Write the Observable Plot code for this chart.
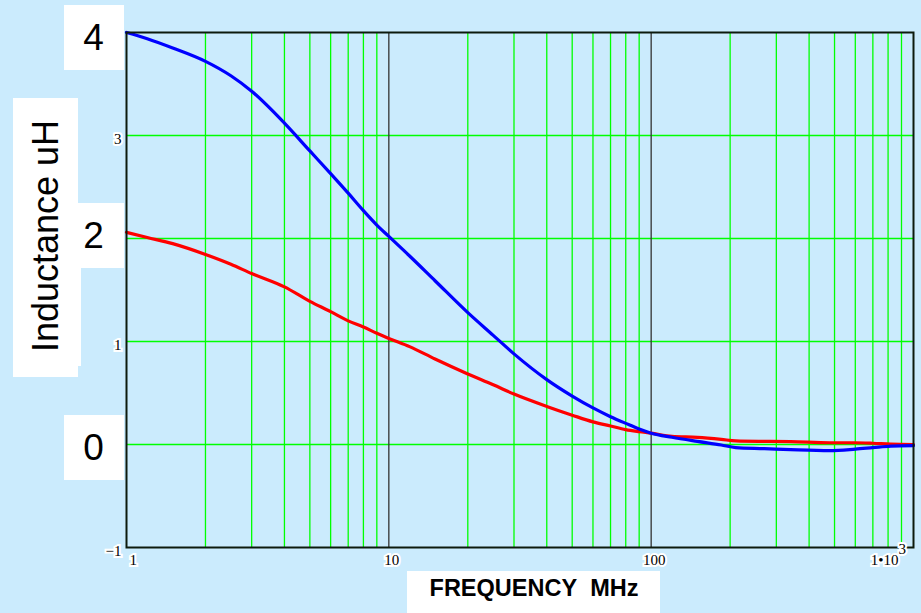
<!DOCTYPE html>
<html>
<head>
<meta charset="utf-8">
<script src="https://cdn.jsdelivr.net/npm/d3@7"></script>
<script src="https://cdn.jsdelivr.net/npm/@observablehq/plot@0.6"></script>
<style>
  html, body { margin: 0; padding: 0; background: #cbebfd; }
  #wrap { position: relative; width: 921px; height: 613px; background: #cbebfd; overflow: hidden; }
  .box { position: absolute; background: #ffffff; }
  #chart { position: absolute; left: 0; top: 0; }
</style>
</head>
<body>
<div id="wrap">
  <div class="box" style="left:64px;top:5px;width:60px;height:65px"></div>
  <div class="box" style="left:13px;top:98px;width:65px;height:279px"></div>
  <div class="box" style="left:13px;top:268px;width:68px;height:98px"></div>
  <div class="box" style="left:64px;top:203px;width:60px;height:65px"></div>
  <div class="box" style="left:64px;top:415px;width:60px;height:65px"></div>
  <div class="box" style="left:407px;top:571px;width:253px;height:42px"></div>
  <div id="chart"></div>
</div>
<script>
// ---- data ----
const freq  = [1, 1.2, 1.5, 2, 2.5, 3, 4, 5, 6, 7, 8, 9, 10, 12, 15, 20, 25, 30, 40, 50, 60, 70, 80, 90, 100, 120, 150, 185, 210, 270, 340, 480, 600, 700, 820, 1000];
const blueL = [4.00, 3.94, 3.85, 3.72, 3.58, 3.43, 3.12, 2.85, 2.63, 2.44, 2.27, 2.13, 2.02, 1.83, 1.59, 1.28, 1.06, 0.88, 0.63, 0.47, 0.355, 0.27, 0.205, 0.15, 0.11, 0.07, 0.03, -0.005, -0.03, -0.04, -0.05, -0.06, -0.045, -0.03, -0.015, -0.01];
const redL  = [2.06, 2.01, 1.95, 1.845, 1.75, 1.66, 1.53, 1.39, 1.29, 1.20, 1.14, 1.08, 1.03, 0.95, 0.83, 0.685, 0.58, 0.49, 0.37, 0.285, 0.22, 0.18, 0.145, 0.125, 0.11, 0.08, 0.07, 0.05, 0.035, 0.03, 0.028, 0.017, 0.017, 0.012, 0.003, 0.0];

const yBigTicks    = [4, 2, 0];
const ySmallTicks  = [3, 1, -1];
const ySmallLabels = ["3", "1", "\u22121"];
const xTicks       = [1, 10, 100, 1000];
const xTickLabels  = ["1", "10", "100", "1\u202210"];
const xTickExp     = ["", "", "", "3"];
const minorX = [2, 3, 4, 5, 6, 7, 8, 9, 20, 30, 40, 50, 60, 70, 80, 90, 200, 300, 400, 500, 600, 700, 800, 900];
const majorX = [10, 100];
const gridY  = [0, 1, 2, 3];
const yTitle = "Inductance uH";
const xTitle = "FREQUENCY\u00a0 MHz";

const blue = freq.map((f, i) => ({f, L: blueL[i]}));
const red  = freq.map((f, i) => ({f, L: redL[i]}));

const big = {fontFamily: "Liberation Sans, Arial, sans-serif", fontSize: 37, fill: "#000"};
const serif = {fontFamily: "Liberation Serif, Times New Roman, serif", fontSize: 15, fill: "#000", stroke: "#fff", strokeWidth: 4, strokeLinejoin: "miter"};
const bigDy = {4: 6, 2: -2, 0: 4};

const chart = Plot.plot({
  width: 921,
  height: 613,
  marginLeft: 126,
  marginRight: 8,
  marginTop: 32,
  marginBottom: 66,
  style: {background: "transparent", overflow: "visible"},
  x: {type: "log", domain: [1, 1000], axis: null},
  y: {domain: [-1, 4], axis: null},
  marks: [
    Plot.ruleX(minorX, {stroke: "#00ff00", strokeWidth: 1.3}),
    Plot.ruleY(gridY, {stroke: "#00ff00", strokeWidth: 1.3}),
    Plot.ruleX(majorX, {stroke: "#333333", strokeWidth: 1.3}),
    Plot.line(red,  {x: "f", y: "L", stroke: "#ff0000", strokeWidth: 3.2, curve: "monotone-x"}),
    Plot.line(blue, {x: "f", y: "L", stroke: "#0000ff", strokeWidth: 3.2, curve: "monotone-x"}),
    Plot.frame({stroke: "#0d1a0d", strokeWidth: 2}),
    // big y tick labels
    ...yBigTicks.map(t => Plot.text([t], {y: d => d, text: d => String(d), frameAnchor: "left", textAnchor: "middle", dx: -33, dy: bigDy[t], ...big})),
    // small y tick labels
    Plot.text(ySmallTicks, {y: d => d, text: (d, i) => ySmallLabels[i], frameAnchor: "left", textAnchor: "end", dx: -5, dy: 4, ...serif}),
    // x tick labels
    Plot.text([xTicks[0]], {x: d => d, text: [xTickLabels[0]], frameAnchor: "bottom", textAnchor: "start", dx: 3, dy: 17, ...serif}),
    Plot.text(xTicks.slice(1, 3), {x: d => d, text: xTickLabels.slice(1, 3), frameAnchor: "bottom", textAnchor: "middle", dx: 3, dy: 17, ...serif}),
    Plot.text([xTicks[3]], {x: d => d, text: [xTickLabels[3]], frameAnchor: "bottom", textAnchor: "end", dx: -15, dy: 17, ...serif}),
    Plot.text([xTicks[3]], {x: d => d, text: [xTickExp[3]], frameAnchor: "bottom", textAnchor: "start", dx: -15, dy: 6, ...serif}),
    // axis titles
    Plot.text([yTitle], {frameAnchor: "left", textAnchor: "middle", rotate: -90, dx: -80, dy: -54, fontSize: 36, fontFamily: "Liberation Sans, Arial, sans-serif", fill: "#000"}),
    Plot.text([xTitle], {frameAnchor: "bottom", textAnchor: "middle", dx: 14, dy: 48, fontSize: 23.5, fontWeight: "bold", fontFamily: "Liberation Sans, Arial, sans-serif", fill: "#000"})
  ]
});
document.getElementById("chart").appendChild(chart);
</script>
</body>
</html>
